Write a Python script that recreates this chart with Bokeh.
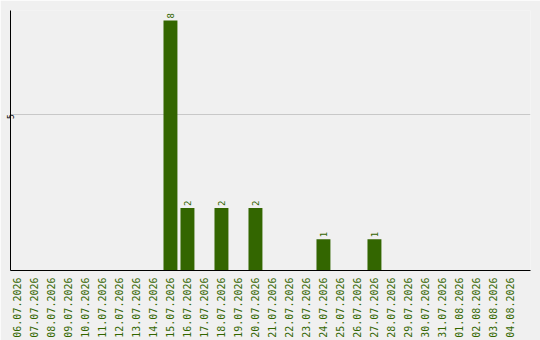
import math
from bokeh.plotting import figure
from bokeh.models import ColumnDataSource, FixedTicker, Range1d
from bokeh.core.properties import value
from bokeh.embed import file_html
from bokeh.resources import INLINE

# Daily counts, 06.07.2026 - 04.08.2026
dates = [
    "06.07.2026", "07.07.2026", "08.07.2026", "09.07.2026", "10.07.2026",
    "11.07.2026", "12.07.2026", "13.07.2026", "14.07.2026", "15.07.2026",
    "16.07.2026", "17.07.2026", "18.07.2026", "19.07.2026", "20.07.2026",
    "21.07.2026", "22.07.2026", "23.07.2026", "24.07.2026", "25.07.2026",
    "26.07.2026", "27.07.2026", "28.07.2026", "29.07.2026", "30.07.2026",
    "31.07.2026", "01.08.2026", "02.08.2026", "03.08.2026", "04.08.2026",
]
counts = [0, 0, 0, 0, 0, 0, 0, 0, 0, 8,
          2, 0, 2, 0, 2, 0, 0, 0, 1, 0,
          0, 1, 0, 0, 0, 0, 0, 0, 0, 0]
y_ticks = [5]

GREEN = "#336600"
BG = "#f0f0f0"

idx = [i for i, c in enumerate(counts) if c > 0]
src = ColumnDataSource(dict(
    x=idx,
    top=[counts[i] for i in idx],
    label=[str(counts[i]) for i in idx],
))

p = figure(
    width=540, height=340,
    x_range=Range1d(-0.41, 30.18), y_range=Range1d(0, 8.32),
    output_backend="svg", toolbar_location=None,
    min_border_left=10, min_border_right=10,
    min_border_top=10, min_border_bottom=70,
    background_fill_color=BG, border_fill_color=BG,
    outline_line_color=None,
)

p.vbar(x="x", top="top", width=0.82, source=src, fill_color=GREEN, line_color=None)
p.text(x="x", y="top", text="label", source=src, angle=math.pi / 2,
       text_align="left", text_baseline="middle", y_offset=-2,
       text_color=GREEN, text_font=value("DejaVu Sans Mono"), text_font_size="9px")

# x axis: one date label per day, reading bottom to top
xa = p.xaxis[0]
xa.ticker = FixedTicker(ticks=list(range(len(dates))))
xa.major_label_overrides = {i: d for i, d in enumerate(dates)}
xa.major_label_orientation = math.pi / 2
xa.major_label_text_font = "DejaVu Sans Mono"
xa.major_label_text_font_size = "10px"
xa.major_label_text_color = GREEN
xa.major_label_standoff = 7
xa.major_tick_out = 0
xa.major_tick_in = 0
xa.minor_tick_out = 0
xa.minor_tick_in = 0
xa.axis_line_color = "black"

ya = p.yaxis[0]
ya.ticker = FixedTicker(ticks=y_ticks)
ya.major_label_orientation = math.pi / 2
ya.major_label_text_font = "DejaVu Sans Mono"
ya.major_label_text_font_size = "8px"
ya.major_label_text_color = "black"
ya.major_label_standoff = 0
ya.major_tick_out = 0
ya.major_tick_in = 0
ya.minor_tick_out = 0
ya.minor_tick_in = 0
ya.axis_line_color = "black"

p.xgrid.visible = False
p.ygrid.ticker = FixedTicker(ticks=y_ticks)
p.ygrid.grid_line_color = "#c8c8c8"

open("out.html", "w").write(file_html(p, INLINE))
